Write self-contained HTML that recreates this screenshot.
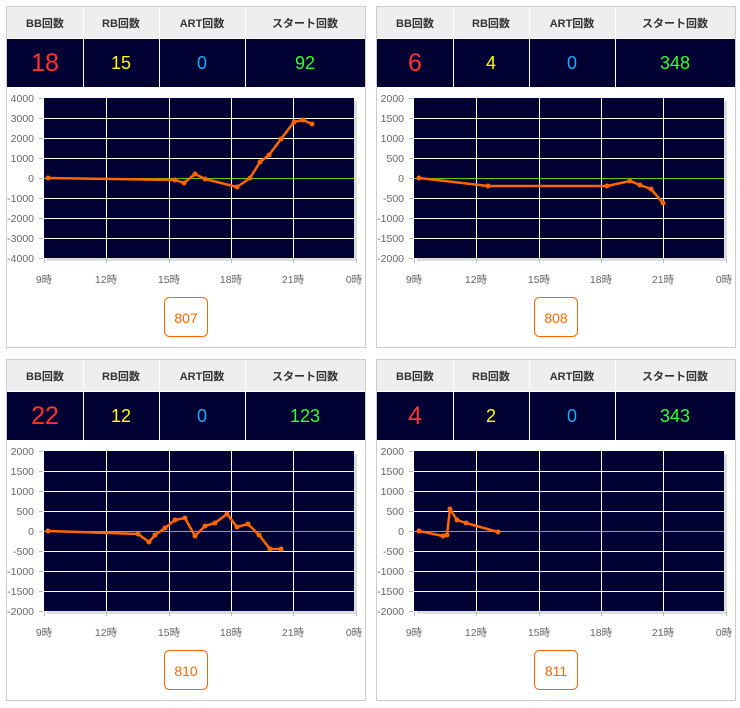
<!DOCTYPE html>
<html><head><meta charset="utf-8"><style>
html,body{margin:0;padding:0;background:#fff;}
svg{display:block;font-family:"Liberation Sans","Noto Sans CJK JP",sans-serif;}
.h{font-size:11px;font-weight:bold;fill:#333;text-anchor:middle}
.yl{font-size:10.5px;fill:#666;text-anchor:end}
.xl{font-size:10.5px;fill:#666;text-anchor:middle}
.g{stroke:#fff;stroke-width:1}
.ln{fill:none;stroke:#ff6600;stroke-width:2.5;stroke-linejoin:round}
.dt{fill:#ff6600}
</style></head><body>
<svg width="740" height="708" viewBox="0 0 740 708">
<defs>
<g id="frame">
<rect x="6.5" y="6.5" width="359" height="341" fill="#fff" stroke="#ccc"/>
<rect x="7" y="7" width="358" height="31" fill="#eeeeee"/>
<rect x="7" y="39" width="358" height="48" fill="#000033"/>
<rect x="83" y="7" width="1" height="80" fill="#fff"/>
<rect x="159" y="7" width="1" height="80" fill="#fff"/>
<rect x="245" y="7" width="1" height="80" fill="#fff"/>
<text class="h" x="45" y="27">BB回数</text>
<text class="h" x="121" y="27">RB回数</text>
<text class="h" x="202" y="27">ART回数</text>
<text class="h" x="305" y="27">スタート回数</text>
<rect x="47" y="101" width="310" height="160" fill="#ddd"/>
<rect x="44" y="98" width="310" height="160" fill="#000033"/>
<g class="g">
<line x1="44" x2="354" y1="118.5" y2="118.5"/><line x1="44" x2="354" y1="138.5" y2="138.5"/>
<line x1="44" x2="354" y1="158.5" y2="158.5"/><line x1="44" x2="354" y1="198.5" y2="198.5"/>
<line x1="44" x2="354" y1="218.5" y2="218.5"/><line x1="44" x2="354" y1="238.5" y2="238.5"/>
<line x1="106.5" x2="106.5" y1="98" y2="258"/><line x1="169.5" x2="169.5" y1="98" y2="258"/>
<line x1="231.5" x2="231.5" y1="98" y2="258"/><line x1="293.5" x2="293.5" y1="98" y2="258"/>
</g>
<line x1="44" x2="354" y1="178.5" y2="178.5" stroke="#66cc00"/>
<g stroke="#bbb">
<line x1="39" x2="43" y1="98.5" y2="98.5"/><line x1="39" x2="43" y1="118.5" y2="118.5"/><line x1="39" x2="43" y1="138.5" y2="138.5"/>
<line x1="39" x2="43" y1="158.5" y2="158.5"/><line x1="39" x2="43" y1="178.5" y2="178.5"/><line x1="39" x2="43" y1="198.5" y2="198.5"/>
<line x1="39" x2="43" y1="218.5" y2="218.5"/><line x1="39" x2="43" y1="238.5" y2="238.5"/><line x1="39" x2="43" y1="258.5" y2="258.5"/>
<line x1="44.5" x2="44.5" y1="259" y2="263"/><line x1="106.5" x2="106.5" y1="259" y2="263"/><line x1="169.5" x2="169.5" y1="259" y2="263"/>
<line x1="231.5" x2="231.5" y1="259" y2="263"/><line x1="293.5" x2="293.5" y1="259" y2="263"/><line x1="356.5" x2="356.5" y1="259" y2="263"/>
</g>
<text class="xl" x="44" y="283">9時</text><text class="xl" x="106" y="283">12時</text><text class="xl" x="169" y="283">15時</text>
<text class="xl" x="231" y="283">18時</text><text class="xl" x="293" y="283">21時</text><text class="xl" x="354" y="283">0時</text>
<rect x="164.5" y="297.5" width="43" height="39" rx="5" fill="#fff" stroke="#ff6600"/>
</g>
</defs>

<!-- Panel 1 -->
<g>
<use href="#frame"/>
<text x="45" y="71" font-size="25" fill="#ff3333" text-anchor="middle">18</text>
<text x="121" y="69" font-size="18" fill="#ffff00" text-anchor="middle">15</text>
<text x="202" y="69" font-size="18" fill="#1eaaff" text-anchor="middle">0</text>
<text x="305" y="69" font-size="18" fill="#33ff33" text-anchor="middle">92</text>
<g class="yl"><text x="34" y="102">4000</text><text x="34" y="122">3000</text><text x="34" y="142">2000</text><text x="34" y="162">1000</text><text x="34" y="182">0</text><text x="34" y="202">-1000</text><text x="34" y="222">-2000</text><text x="34" y="242">-3000</text><text x="34" y="262">-4000</text></g>
<polyline class="ln" points="48,178 175,180 184,183 195,174 205,179 237,187 250,178 260,162 269,155 281,139 294,122 303,120 312,124"/>
<g class="dt"><circle cx="48" cy="178" r="2.5"/><circle cx="175" cy="180" r="2.5"/><circle cx="184" cy="183" r="2.5"/><circle cx="195" cy="174" r="2.5"/><circle cx="205" cy="179" r="2.5"/><circle cx="237" cy="187" r="2.5"/><circle cx="250" cy="178" r="2.5"/><circle cx="260" cy="162" r="2.5"/><circle cx="269" cy="155" r="2.5"/><circle cx="281" cy="139" r="2.5"/><circle cx="294" cy="122" r="2.5"/><circle cx="303" cy="120" r="2.5"/><circle cx="312" cy="124" r="2.5"/></g>
<text x="186" y="323" font-size="14" fill="#ff6600" text-anchor="middle">807</text>
</g>

<!-- Panel 2 -->
<g transform="translate(370,0)">
<use href="#frame"/>
<text x="45" y="71" font-size="25" fill="#ff3333" text-anchor="middle">6</text>
<text x="121" y="69" font-size="18" fill="#ffff00" text-anchor="middle">4</text>
<text x="202" y="69" font-size="18" fill="#1eaaff" text-anchor="middle">0</text>
<text x="305" y="69" font-size="18" fill="#33ff33" text-anchor="middle">348</text>
<g class="yl"><text x="34" y="102">2000</text><text x="34" y="122">1500</text><text x="34" y="142">1000</text><text x="34" y="162">500</text><text x="34" y="182">0</text><text x="34" y="202">-500</text><text x="34" y="222">-1000</text><text x="34" y="242">-1500</text><text x="34" y="262">-2000</text></g>
<polyline class="ln" points="49,178 118,186 237,186 260,181 270,185 281,189 293,203"/>
<g class="dt"><circle cx="49" cy="178" r="2.5"/><circle cx="118" cy="186" r="2.5"/><circle cx="237" cy="186" r="2.5"/><circle cx="260" cy="181" r="2.5"/><circle cx="270" cy="185" r="2.5"/><circle cx="281" cy="189" r="2.5"/><circle cx="293" cy="203" r="2.5"/></g>
<text x="186" y="323" font-size="14" fill="#ff6600" text-anchor="middle">808</text>
</g>

<!-- Panel 3 -->
<g transform="translate(0,353)">
<use href="#frame"/>
<text x="45" y="71" font-size="25" fill="#ff3333" text-anchor="middle">22</text>
<text x="121" y="69" font-size="18" fill="#ffff00" text-anchor="middle">12</text>
<text x="202" y="69" font-size="18" fill="#1eaaff" text-anchor="middle">0</text>
<text x="305" y="69" font-size="18" fill="#33ff33" text-anchor="middle">123</text>
<g class="yl"><text x="34" y="102">2000</text><text x="34" y="122">1500</text><text x="34" y="142">1000</text><text x="34" y="162">500</text><text x="34" y="182">0</text><text x="34" y="202">-500</text><text x="34" y="222">-1000</text><text x="34" y="242">-1500</text><text x="34" y="262">-2000</text></g>
<polyline class="ln" points="48,178 138,181 149,189 155,182 165,175 175,167 185,165 195,183 205,173 215,170 227,161 237,174 248,171 259,182 270,196 281,196"/>
<g class="dt"><circle cx="48" cy="178" r="2.5"/><circle cx="138" cy="181" r="2.5"/><circle cx="149" cy="189" r="2.5"/><circle cx="155" cy="182" r="2.5"/><circle cx="165" cy="175" r="2.5"/><circle cx="175" cy="167" r="2.5"/><circle cx="185" cy="165" r="2.5"/><circle cx="195" cy="183" r="2.5"/><circle cx="205" cy="173" r="2.5"/><circle cx="215" cy="170" r="2.5"/><circle cx="227" cy="161" r="2.5"/><circle cx="237" cy="174" r="2.5"/><circle cx="248" cy="171" r="2.5"/><circle cx="259" cy="182" r="2.5"/><circle cx="270" cy="196" r="2.5"/><circle cx="281" cy="196" r="2.5"/></g>
<text x="186" y="323" font-size="14" fill="#ff6600" text-anchor="middle">810</text>
</g>

<!-- Panel 4 -->
<g transform="translate(370,353)">
<use href="#frame"/>
<text x="45" y="71" font-size="25" fill="#ff3333" text-anchor="middle">4</text>
<text x="121" y="69" font-size="18" fill="#ffff00" text-anchor="middle">2</text>
<text x="202" y="69" font-size="18" fill="#1eaaff" text-anchor="middle">0</text>
<text x="305" y="69" font-size="18" fill="#33ff33" text-anchor="middle">343</text>
<g class="yl"><text x="34" y="102">2000</text><text x="34" y="122">1500</text><text x="34" y="142">1000</text><text x="34" y="162">500</text><text x="34" y="182">0</text><text x="34" y="202">-500</text><text x="34" y="222">-1000</text><text x="34" y="242">-1500</text><text x="34" y="262">-2000</text></g>
<polyline class="ln" points="49,178 73,183 77,182 80,156 87,167 96,170 128,179"/>
<g class="dt"><circle cx="49" cy="178" r="2.5"/><circle cx="73" cy="183" r="2.5"/><circle cx="77" cy="182" r="2.5"/><circle cx="80" cy="156" r="2.5"/><circle cx="87" cy="167" r="2.5"/><circle cx="96" cy="170" r="2.5"/><circle cx="128" cy="179" r="2.5"/></g>
<text x="186" y="323" font-size="14" fill="#ff6600" text-anchor="middle">811</text>
</g>
</svg>
</body></html>
